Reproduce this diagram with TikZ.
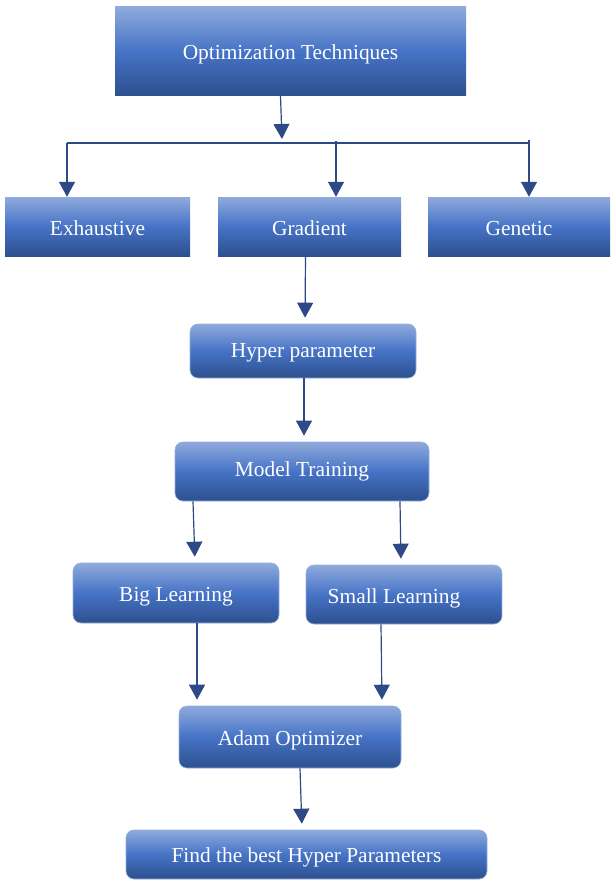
\documentclass[tikz,border=0pt]{standalone}
\usepackage{fontspec}
\setmainfont{Liberation Serif}
\usetikzlibrary{arrows.meta}
\definecolor{ctop}{RGB}{143,170,220}
\definecolor{cmid}{RGB}{70,115,198}
\definecolor{cbot}{RGB}{45,80,142}
\definecolor{cedge}{RGB}{150,175,220}
\definecolor{carr}{RGB}{45,74,135}
\tikzset{
  box/.style={rectangle, top color=ctop, bottom color=cbot, middle color=cmid,
    text=white, font=\fontsize{21.4}{25}\selectfont, inner sep=0pt,
    text height=17pt, text depth=0pt},
  rbox/.style={box, rounded corners=8pt, draw=cedge, line width=0.6pt},
  conn/.style={draw=carr, line width=1.2pt},
  arr/.style={conn, -{Triangle[width=16pt,length=15pt]}},
  arrg/.style={arr, shorten >=6pt}
}
\begin{document}
\begin{tikzpicture}[x=1pt,y=-1pt]
\useasboundingbox (0,0) rectangle (610,880);
\node[box, minimum width=351pt, minimum height=89pt] (top) at (290.5,51.5) {Optimization Techniques};
\node[box, minimum width=185pt, minimum height=59pt] (exh) at (97.5,226.5) {Exhaustive};
\node[box, minimum width=183pt, minimum height=59pt] (gra) at (309.5,226.5) {Gradient};
\node[box, minimum width=182pt, minimum height=59pt] (gen) at (519,226.5) {Genetic};
\node[rbox, text height=12pt, minimum width=226pt, minimum height=54pt] (hyp) at (303,351) {Hyper parameter};
\node[rbox, text height=9pt, minimum width=254pt, minimum height=59pt] (mod) at (302,471.5) {Model Training};
\node[rbox, minimum width=206pt, minimum height=60pt] (big) at (176,593) {Big Learning};
\node[rbox, minimum width=196pt, minimum height=59pt] (sml) at (404,594.5) {\hspace*{-20pt}Small Learning};
\node[rbox, minimum width=222pt, minimum height=62pt] (adam) at (290,737) {Adam Optimizer};
\node[rbox, text height=15pt, minimum width=361pt, minimum height=49pt] (find) at (306.5,854.5) {Find the best Hyper Parameters};

\coordinate (jn) at (282,139);
\coordinate (barL) at (67,143);
\coordinate (barR) at (529,143);
\coordinate (bm) at (336,141);
\coordinate (bg) at (529,140);

\draw[arr] ([xshift=-10pt]top.south) -- (jn);
\draw[conn] (barL) -- (barR);
\draw[arr] (barL) -- (barL |- exh.north);
\draw[arr] (bm) -- (bm |- gra.north);
\draw[arr] (bg) -- (bg |- gen.north);

\draw[arrg] ([xshift=-4pt]gra.south) -- ([xshift=2pt]hyp.north);
\draw[arrg] ([xshift=1pt]hyp.south) -- ([xshift=2pt]mod.north);
\draw[arrg] ([xshift=-109pt]mod.south) -- ([xshift=19pt]big.north);
\draw[arrg] ([xshift=98pt]mod.south) -- ([xshift=-3pt]sml.north);
\draw[arrg] ([xshift=21pt]big.south) -- ([xshift=-93pt]adam.north);
\draw[arrg] ([xshift=-23pt]sml.south) -- ([xshift=92pt]adam.north);
\draw[arrg] ([xshift=10pt]adam.south) -- ([xshift=-4.5pt]find.north);
\end{tikzpicture}
\end{document}
